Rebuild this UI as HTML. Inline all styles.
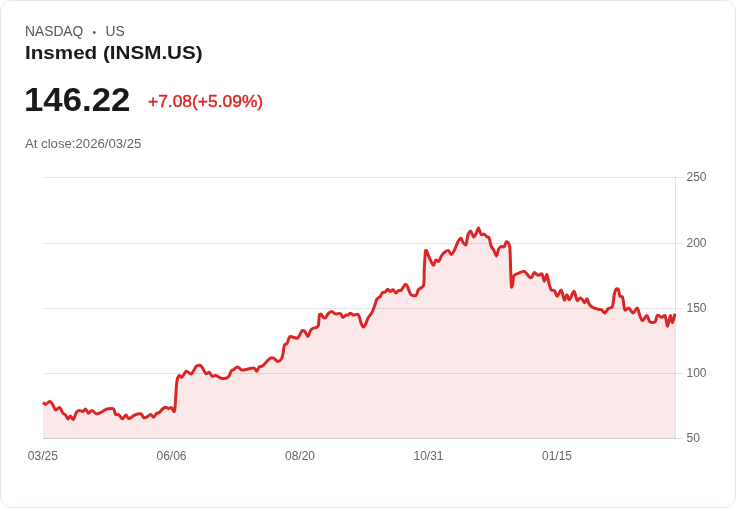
<!DOCTYPE html>
<html lang="en">
<head>
<meta charset="utf-8">
<title>Insmed (INSM.US)</title>
<style>
html,body{margin:0;padding:0;background:#fff;}
body{width:736px;height:508px;overflow:hidden;font-family:"Liberation Sans",sans-serif;}
.card{position:relative;width:736px;height:508px;background:#fff;overflow:hidden;}
.bd{position:absolute;left:0;top:0;box-sizing:border-box;width:736px;height:508px;border:1px solid #e2e8f0;border-radius:12px;}
.t{position:absolute;left:25px;white-space:nowrap;line-height:1;transform-origin:0 0;}
.exch{left:24.6px;top:24.4px;font-size:14.5px;color:#555;transform:scaleX(.952);}
.dot{display:inline-block;font-size:10.6px;line-height:1;margin:0 9.9px 0 9.7px;vertical-align:0.7px;}
.name{left:25.2px;top:45px;font-size:17.8px;font-weight:bold;color:#1a1a1a;transform:scaleX(1.16);}
.price{left:24.4px;top:84.4px;font-size:32.5px;font-weight:bold;color:#1a1a1a;transform:scaleX(1.07);}
.chg{left:147.8px;top:94px;font-size:16px;color:#dc2626;transform:scaleX(1.088);-webkit-text-stroke:.45px #dc2626;}
.close{left:25.3px;top:137.6px;font-size:12px;color:#666;transform:scaleX(1.097);}
svg{position:absolute;left:0;top:0;}
svg text{font-family:"Liberation Sans",sans-serif;font-size:12px;fill:#666;}
</style>
</head>
<body>
<div class="card">
<div class="bd"></div>
<div class="t exch">NASDAQ<span class="dot">•</span>US</div>
<div class="t name">Insmed (INSM.US)</div>
<div class="t price">146.22</div>
<div class="t chg">+7.08(+5.09%)</div>
<div class="t close">At close:2026/03/25</div>
<svg width="736" height="508" viewBox="0 0 736 508">
<g>
<g stroke="rgba(0,0,0,0.1)" stroke-width="1" fill="none"><line x1="43.0" y1="177.5" x2="683.5" y2="177.5"/><line x1="43.0" y1="243.5" x2="683.5" y2="243.5"/><line x1="43.0" y1="308.5" x2="683.5" y2="308.5"/><line x1="43.0" y1="373.5" x2="683.5" y2="373.5"/><line x1="43.0" y1="438.5" x2="683.5" y2="438.5"/><line x1="43.0" y1="438.5" x2="676.0" y2="438.5"/><line x1="675.5" y1="177" x2="675.5" y2="439"/></g>
<path d="M43.00 402.30C43.75 402.93 44.71 404.48 45.50 404.40C46.69 404.27 48.40 401.71 49.60 401.60C50.44 401.53 51.70 402.97 52.30 403.80C53.50 405.46 54.30 409.25 55.60 409.90C56.46 410.33 58.59 407.02 59.50 407.40C60.75 407.92 61.62 411.42 62.80 412.90C63.42 413.67 64.86 414.15 65.50 414.90C66.42 415.98 67.17 418.82 68.00 419.00C68.67 419.15 69.76 415.93 70.50 416.00C71.35 416.08 72.65 419.92 73.30 419.50C74.48 418.75 75.31 414.06 76.60 412.10C77.11 411.33 78.43 410.48 79.30 410.40C80.35 410.30 82.01 411.70 83.00 411.50C83.90 411.31 84.92 408.89 85.60 409.10C86.57 409.40 87.50 412.99 88.50 413.20C89.36 413.38 90.78 410.32 91.80 410.40C93.15 410.50 94.90 413.43 96.40 413.80C97.60 414.09 99.56 413.15 100.80 412.60C101.87 412.13 103.04 410.92 104.10 410.40C105.35 409.78 107.14 409.02 108.50 408.80C109.96 408.57 112.52 408.13 113.50 408.90C114.65 409.81 114.58 413.26 115.60 414.40C116.15 415.01 117.99 414.27 118.75 414.75C120.06 415.58 121.38 418.71 122.50 418.75C123.53 418.79 124.91 415.04 125.90 415.00C126.78 414.96 127.74 418.18 128.75 418.50C129.54 418.75 130.98 417.42 131.90 416.90C133.03 416.25 134.38 414.98 135.60 414.60C137.19 414.11 139.89 413.47 141.25 414.00C142.33 414.42 142.77 417.25 143.75 417.75C144.46 418.12 146.02 417.30 146.90 416.90C148.08 416.36 149.54 414.55 150.60 414.60C151.60 414.65 152.92 417.40 153.75 417.25C154.69 417.07 155.48 414.36 156.50 413.50C157.17 412.93 158.69 413.03 159.40 412.50C160.49 411.68 161.44 409.89 162.50 409.00C163.30 408.32 164.64 407.33 165.60 407.25C166.51 407.18 167.81 408.46 168.75 408.50C169.50 408.53 170.67 407.19 171.25 407.50C172.33 408.09 173.95 412.29 174.30 411.50C175.28 409.29 175.34 401.71 175.70 397.50C176.12 392.63 176.16 386.04 176.90 381.25C177.18 379.47 178.12 376.38 179.10 375.60C179.62 375.18 181.25 377.65 181.90 377.25C183.39 376.34 184.67 371.80 186.25 371.25C187.47 370.83 190.10 374.57 191.25 374.00C193.10 373.07 194.45 368.18 196.25 366.25C196.90 365.56 198.47 365.30 199.40 365.25C199.92 365.22 200.71 365.62 201.10 366.00C201.79 366.67 202.46 367.91 203.00 368.75C203.96 370.23 204.92 373.09 206.10 373.75C206.80 374.14 208.51 371.94 209.25 372.25C210.28 372.69 210.92 375.67 212.00 376.25C212.79 376.68 214.48 375.50 215.50 375.60C216.46 375.69 217.69 376.48 218.60 376.90C219.56 377.35 220.74 378.40 221.75 378.50C223.38 378.66 225.90 378.33 227.40 377.75C228.15 377.46 228.83 376.33 229.25 375.60C230.06 374.19 230.58 371.84 231.50 370.60C231.88 370.09 233.04 370.12 233.60 369.75C234.62 369.07 235.72 367.56 236.75 367.10C237.22 366.89 238.12 367.22 238.60 367.50C239.62 368.09 240.65 369.83 241.75 370.00C243.47 370.28 246.12 369.29 248.00 369.00C249.87 368.72 252.65 367.69 254.25 368.10C255.27 368.36 256.08 371.41 256.75 371.25C257.58 371.05 258.22 367.85 259.25 366.90C259.92 366.28 261.61 366.53 262.40 366.00C263.67 365.14 264.98 363.37 266.10 362.25C267.23 361.12 268.57 359.23 269.90 358.50C270.82 357.99 272.63 357.73 273.60 358.10C275.06 358.66 276.69 361.49 278.00 361.60C279.06 361.69 280.80 359.84 281.50 358.75C282.30 357.49 282.67 355.28 283.00 353.75C283.57 351.15 283.60 347.31 284.50 345.00C284.80 344.24 286.55 344.21 287.00 343.50C288.12 341.73 288.47 337.98 289.75 336.75C290.42 336.11 292.39 337.03 293.50 337.25C294.64 337.48 296.33 338.57 297.25 338.25C298.20 337.92 299.10 336.11 299.75 335.10C300.60 333.79 301.25 331.24 302.25 330.50C302.75 330.13 304.22 330.85 304.75 331.40C305.92 332.62 307.07 336.50 307.90 336.40C308.77 336.30 309.45 332.31 310.40 330.75C310.95 329.86 312.01 328.75 312.90 328.25C313.69 327.80 315.16 327.99 316.00 327.60C316.77 327.24 318.04 326.55 318.25 325.75C319.09 322.62 318.77 317.54 319.50 314.50C319.60 314.09 320.68 314.00 321.00 314.25C321.88 314.93 322.57 316.95 323.50 317.60C324.00 317.95 325.30 317.98 325.75 317.60C326.62 316.87 327.04 314.81 327.90 313.90C328.80 312.95 330.49 311.40 331.60 311.40C332.74 311.40 334.14 313.60 335.40 313.90C336.78 314.23 339.23 312.95 340.40 313.50C341.48 314.00 341.98 317.14 342.90 317.40C343.66 317.62 344.99 315.56 346.00 315.10C346.49 314.87 347.40 315.31 347.90 315.10C348.72 314.76 349.62 313.25 350.40 313.25C351.30 313.25 352.50 314.97 353.50 315.10C354.75 315.27 356.95 313.77 357.90 314.25C358.83 314.72 359.30 317.01 359.75 318.25C360.41 320.08 360.84 322.73 361.60 324.50C361.97 325.35 362.96 327.15 363.50 327.00C364.28 326.78 365.40 324.45 366.00 323.25C366.72 321.83 367.13 319.64 367.90 318.25C369.00 316.27 371.24 314.03 372.25 312.00C373.49 309.53 374.43 305.87 375.40 303.25C375.89 301.94 376.32 300.00 377.10 298.90C377.77 297.95 379.48 297.30 380.25 296.40C381.10 295.41 381.58 293.41 382.50 292.60C383.08 292.09 384.57 292.43 385.25 292.00C386.15 291.43 386.96 289.35 387.75 289.25C388.46 289.17 389.45 291.32 390.25 291.40C391.03 291.47 392.28 289.55 393.00 289.75C393.98 290.03 395.01 292.88 395.90 293.00C396.63 293.10 397.52 290.94 398.40 290.50C399.02 290.19 400.38 290.95 400.90 290.50C402.44 289.15 403.82 285.60 405.25 284.50C405.68 284.17 406.78 285.18 407.10 285.75C408.47 288.18 409.18 292.59 410.90 294.50C411.82 295.52 414.89 296.14 415.90 295.50C417.14 294.71 417.29 291.20 418.40 289.75C419.54 288.27 422.90 287.47 423.40 285.75C424.66 281.39 423.96 274.37 424.25 269.50C424.59 263.87 424.86 256.15 425.50 250.75C425.54 250.45 426.36 250.26 426.50 250.50C427.41 252.13 428.11 255.12 429.00 257.00C430.18 259.50 432.11 264.52 433.40 265.10C434.18 265.45 434.87 260.81 435.90 260.10C436.48 259.70 438.19 261.83 438.75 261.40C439.87 260.53 440.46 257.30 441.50 255.75C442.41 254.40 443.97 252.72 445.25 251.75C446.04 251.15 447.67 250.16 448.40 250.50C449.47 250.99 450.39 254.56 451.25 254.50C452.19 254.44 453.65 251.53 454.40 250.10C455.71 247.60 456.74 243.85 458.10 241.40C458.72 240.29 460.30 238.08 461.00 238.25C461.80 238.44 462.25 241.47 463.10 242.60C463.72 243.42 465.52 245.36 465.90 244.75C467.02 242.93 467.10 237.42 468.10 234.50C468.51 233.30 469.94 230.71 470.60 231.00C471.64 231.46 472.73 236.59 473.75 237.00C474.43 237.27 475.62 234.44 476.25 233.25C477.05 231.74 477.83 227.83 478.50 228.00C479.33 228.21 480.07 233.19 481.25 234.50C481.72 235.02 483.30 233.82 484.00 234.10C484.99 234.50 485.95 236.08 486.90 236.75C487.45 237.13 488.74 237.02 489.00 237.60C490.04 239.92 490.29 243.89 491.25 246.40C491.72 247.64 493.11 248.93 493.75 250.10C494.68 251.81 495.80 256.17 496.50 256.00C497.30 255.81 497.78 250.85 498.75 248.90C499.21 247.97 500.37 246.72 501.25 246.40C501.95 246.15 503.49 247.45 504.00 247.00C504.99 246.13 505.34 242.97 506.25 242.00C506.57 241.65 507.79 242.16 508.10 242.60C508.84 243.66 509.61 245.61 509.75 247.00C510.36 253.23 510.33 261.70 510.60 268.00C510.85 273.78 510.99 282.73 511.50 287.25C511.56 287.83 512.35 285.72 512.50 285.00C513.10 282.22 512.80 277.88 514.00 275.60C514.68 274.31 517.28 273.75 518.75 273.10C520.21 272.45 522.33 271.25 523.75 271.25C524.58 271.25 525.59 272.44 526.25 273.10C527.47 274.32 528.74 276.65 530.00 277.50C530.43 277.79 531.53 277.32 531.90 276.90C532.85 275.82 533.46 272.82 534.40 272.50C535.14 272.25 536.48 274.49 537.50 275.00C537.98 275.24 538.87 275.15 539.40 275.00C540.19 274.78 541.51 273.26 541.90 273.75C543.01 275.14 543.62 281.15 544.40 281.25C545.12 281.34 546.29 274.22 546.90 274.40C547.60 274.60 548.08 280.10 548.75 282.50C549.39 284.78 550.04 288.27 551.25 290.00C551.74 290.70 553.79 289.97 554.40 290.60C555.59 291.84 556.30 296.33 557.25 296.25C558.36 296.15 560.36 289.53 561.25 290.00C562.51 290.66 563.31 299.08 564.40 300.00C565.00 300.51 566.14 294.79 566.90 294.75C567.64 294.71 568.62 300.13 569.40 299.75C570.75 299.08 572.84 291.12 574.00 291.25C575.19 291.38 575.98 299.09 577.25 300.60C577.70 301.14 578.91 298.39 579.75 298.10C580.30 297.91 581.40 298.54 581.90 299.00C582.90 299.93 583.99 302.79 584.75 302.75C585.49 302.71 586.31 298.54 586.90 298.75C587.70 299.04 588.40 302.88 589.40 304.40C590.08 305.43 591.41 306.67 592.50 307.25C594.21 308.17 596.85 308.84 598.75 309.40C599.67 309.67 601.12 309.52 601.90 310.00C602.92 310.63 603.94 313.26 604.75 313.10C605.80 312.89 606.87 309.77 608.10 308.75C609.12 307.91 611.77 308.04 612.25 306.90C613.66 303.54 613.53 297.63 614.40 293.75C614.73 292.26 615.44 290.05 616.25 289.00C616.55 288.62 617.88 288.57 618.10 289.00C619.00 290.74 619.02 294.49 620.00 296.25C620.34 296.86 622.26 296.23 622.50 296.90C623.76 300.36 623.57 307.45 625.00 310.00C625.45 310.81 627.79 307.76 628.75 308.10C630.22 308.63 631.81 312.90 633.10 312.90C634.36 312.90 636.37 307.67 637.25 308.10C638.44 308.68 639.01 313.88 640.00 316.25C640.58 317.63 641.61 320.68 642.50 320.60C643.68 320.49 645.80 315.41 646.90 315.60C648.05 315.80 648.58 320.80 650.00 321.90C651.01 322.69 654.07 322.72 655.00 321.90C656.32 320.73 656.27 316.08 657.50 315.25C658.34 314.69 660.60 317.19 661.90 317.25C662.85 317.29 664.59 314.94 665.00 315.60C666.27 317.64 666.69 326.25 667.50 326.25C668.31 326.25 669.49 316.28 670.40 315.60C670.99 315.16 671.89 322.75 672.50 322.50C673.27 322.19 674.25 316.38 675.00 313.75L675.00 438.00L43.00 438.00Z" fill="rgba(220,38,38,0.1)" stroke="none"/>
<path d="M43.00 402.30C43.75 402.93 44.71 404.48 45.50 404.40C46.69 404.27 48.40 401.71 49.60 401.60C50.44 401.53 51.70 402.97 52.30 403.80C53.50 405.46 54.30 409.25 55.60 409.90C56.46 410.33 58.59 407.02 59.50 407.40C60.75 407.92 61.62 411.42 62.80 412.90C63.42 413.67 64.86 414.15 65.50 414.90C66.42 415.98 67.17 418.82 68.00 419.00C68.67 419.15 69.76 415.93 70.50 416.00C71.35 416.08 72.65 419.92 73.30 419.50C74.48 418.75 75.31 414.06 76.60 412.10C77.11 411.33 78.43 410.48 79.30 410.40C80.35 410.30 82.01 411.70 83.00 411.50C83.90 411.31 84.92 408.89 85.60 409.10C86.57 409.40 87.50 412.99 88.50 413.20C89.36 413.38 90.78 410.32 91.80 410.40C93.15 410.50 94.90 413.43 96.40 413.80C97.60 414.09 99.56 413.15 100.80 412.60C101.87 412.13 103.04 410.92 104.10 410.40C105.35 409.78 107.14 409.02 108.50 408.80C109.96 408.57 112.52 408.13 113.50 408.90C114.65 409.81 114.58 413.26 115.60 414.40C116.15 415.01 117.99 414.27 118.75 414.75C120.06 415.58 121.38 418.71 122.50 418.75C123.53 418.79 124.91 415.04 125.90 415.00C126.78 414.96 127.74 418.18 128.75 418.50C129.54 418.75 130.98 417.42 131.90 416.90C133.03 416.25 134.38 414.98 135.60 414.60C137.19 414.11 139.89 413.47 141.25 414.00C142.33 414.42 142.77 417.25 143.75 417.75C144.46 418.12 146.02 417.30 146.90 416.90C148.08 416.36 149.54 414.55 150.60 414.60C151.60 414.65 152.92 417.40 153.75 417.25C154.69 417.07 155.48 414.36 156.50 413.50C157.17 412.93 158.69 413.03 159.40 412.50C160.49 411.68 161.44 409.89 162.50 409.00C163.30 408.32 164.64 407.33 165.60 407.25C166.51 407.18 167.81 408.46 168.75 408.50C169.50 408.53 170.67 407.19 171.25 407.50C172.33 408.09 173.95 412.29 174.30 411.50C175.28 409.29 175.34 401.71 175.70 397.50C176.12 392.63 176.16 386.04 176.90 381.25C177.18 379.47 178.12 376.38 179.10 375.60C179.62 375.18 181.25 377.65 181.90 377.25C183.39 376.34 184.67 371.80 186.25 371.25C187.47 370.83 190.10 374.57 191.25 374.00C193.10 373.07 194.45 368.18 196.25 366.25C196.90 365.56 198.47 365.30 199.40 365.25C199.92 365.22 200.71 365.62 201.10 366.00C201.79 366.67 202.46 367.91 203.00 368.75C203.96 370.23 204.92 373.09 206.10 373.75C206.80 374.14 208.51 371.94 209.25 372.25C210.28 372.69 210.92 375.67 212.00 376.25C212.79 376.68 214.48 375.50 215.50 375.60C216.46 375.69 217.69 376.48 218.60 376.90C219.56 377.35 220.74 378.40 221.75 378.50C223.38 378.66 225.90 378.33 227.40 377.75C228.15 377.46 228.83 376.33 229.25 375.60C230.06 374.19 230.58 371.84 231.50 370.60C231.88 370.09 233.04 370.12 233.60 369.75C234.62 369.07 235.72 367.56 236.75 367.10C237.22 366.89 238.12 367.22 238.60 367.50C239.62 368.09 240.65 369.83 241.75 370.00C243.47 370.28 246.12 369.29 248.00 369.00C249.87 368.72 252.65 367.69 254.25 368.10C255.27 368.36 256.08 371.41 256.75 371.25C257.58 371.05 258.22 367.85 259.25 366.90C259.92 366.28 261.61 366.53 262.40 366.00C263.67 365.14 264.98 363.37 266.10 362.25C267.23 361.12 268.57 359.23 269.90 358.50C270.82 357.99 272.63 357.73 273.60 358.10C275.06 358.66 276.69 361.49 278.00 361.60C279.06 361.69 280.80 359.84 281.50 358.75C282.30 357.49 282.67 355.28 283.00 353.75C283.57 351.15 283.60 347.31 284.50 345.00C284.80 344.24 286.55 344.21 287.00 343.50C288.12 341.73 288.47 337.98 289.75 336.75C290.42 336.11 292.39 337.03 293.50 337.25C294.64 337.48 296.33 338.57 297.25 338.25C298.20 337.92 299.10 336.11 299.75 335.10C300.60 333.79 301.25 331.24 302.25 330.50C302.75 330.13 304.22 330.85 304.75 331.40C305.92 332.62 307.07 336.50 307.90 336.40C308.77 336.30 309.45 332.31 310.40 330.75C310.95 329.86 312.01 328.75 312.90 328.25C313.69 327.80 315.16 327.99 316.00 327.60C316.77 327.24 318.04 326.55 318.25 325.75C319.09 322.62 318.77 317.54 319.50 314.50C319.60 314.09 320.68 314.00 321.00 314.25C321.88 314.93 322.57 316.95 323.50 317.60C324.00 317.95 325.30 317.98 325.75 317.60C326.62 316.87 327.04 314.81 327.90 313.90C328.80 312.95 330.49 311.40 331.60 311.40C332.74 311.40 334.14 313.60 335.40 313.90C336.78 314.23 339.23 312.95 340.40 313.50C341.48 314.00 341.98 317.14 342.90 317.40C343.66 317.62 344.99 315.56 346.00 315.10C346.49 314.87 347.40 315.31 347.90 315.10C348.72 314.76 349.62 313.25 350.40 313.25C351.30 313.25 352.50 314.97 353.50 315.10C354.75 315.27 356.95 313.77 357.90 314.25C358.83 314.72 359.30 317.01 359.75 318.25C360.41 320.08 360.84 322.73 361.60 324.50C361.97 325.35 362.96 327.15 363.50 327.00C364.28 326.78 365.40 324.45 366.00 323.25C366.72 321.83 367.13 319.64 367.90 318.25C369.00 316.27 371.24 314.03 372.25 312.00C373.49 309.53 374.43 305.87 375.40 303.25C375.89 301.94 376.32 300.00 377.10 298.90C377.77 297.95 379.48 297.30 380.25 296.40C381.10 295.41 381.58 293.41 382.50 292.60C383.08 292.09 384.57 292.43 385.25 292.00C386.15 291.43 386.96 289.35 387.75 289.25C388.46 289.17 389.45 291.32 390.25 291.40C391.03 291.47 392.28 289.55 393.00 289.75C393.98 290.03 395.01 292.88 395.90 293.00C396.63 293.10 397.52 290.94 398.40 290.50C399.02 290.19 400.38 290.95 400.90 290.50C402.44 289.15 403.82 285.60 405.25 284.50C405.68 284.17 406.78 285.18 407.10 285.75C408.47 288.18 409.18 292.59 410.90 294.50C411.82 295.52 414.89 296.14 415.90 295.50C417.14 294.71 417.29 291.20 418.40 289.75C419.54 288.27 422.90 287.47 423.40 285.75C424.66 281.39 423.96 274.37 424.25 269.50C424.59 263.87 424.86 256.15 425.50 250.75C425.54 250.45 426.36 250.26 426.50 250.50C427.41 252.13 428.11 255.12 429.00 257.00C430.18 259.50 432.11 264.52 433.40 265.10C434.18 265.45 434.87 260.81 435.90 260.10C436.48 259.70 438.19 261.83 438.75 261.40C439.87 260.53 440.46 257.30 441.50 255.75C442.41 254.40 443.97 252.72 445.25 251.75C446.04 251.15 447.67 250.16 448.40 250.50C449.47 250.99 450.39 254.56 451.25 254.50C452.19 254.44 453.65 251.53 454.40 250.10C455.71 247.60 456.74 243.85 458.10 241.40C458.72 240.29 460.30 238.08 461.00 238.25C461.80 238.44 462.25 241.47 463.10 242.60C463.72 243.42 465.52 245.36 465.90 244.75C467.02 242.93 467.10 237.42 468.10 234.50C468.51 233.30 469.94 230.71 470.60 231.00C471.64 231.46 472.73 236.59 473.75 237.00C474.43 237.27 475.62 234.44 476.25 233.25C477.05 231.74 477.83 227.83 478.50 228.00C479.33 228.21 480.07 233.19 481.25 234.50C481.72 235.02 483.30 233.82 484.00 234.10C484.99 234.50 485.95 236.08 486.90 236.75C487.45 237.13 488.74 237.02 489.00 237.60C490.04 239.92 490.29 243.89 491.25 246.40C491.72 247.64 493.11 248.93 493.75 250.10C494.68 251.81 495.80 256.17 496.50 256.00C497.30 255.81 497.78 250.85 498.75 248.90C499.21 247.97 500.37 246.72 501.25 246.40C501.95 246.15 503.49 247.45 504.00 247.00C504.99 246.13 505.34 242.97 506.25 242.00C506.57 241.65 507.79 242.16 508.10 242.60C508.84 243.66 509.61 245.61 509.75 247.00C510.36 253.23 510.33 261.70 510.60 268.00C510.85 273.78 510.99 282.73 511.50 287.25C511.56 287.83 512.35 285.72 512.50 285.00C513.10 282.22 512.80 277.88 514.00 275.60C514.68 274.31 517.28 273.75 518.75 273.10C520.21 272.45 522.33 271.25 523.75 271.25C524.58 271.25 525.59 272.44 526.25 273.10C527.47 274.32 528.74 276.65 530.00 277.50C530.43 277.79 531.53 277.32 531.90 276.90C532.85 275.82 533.46 272.82 534.40 272.50C535.14 272.25 536.48 274.49 537.50 275.00C537.98 275.24 538.87 275.15 539.40 275.00C540.19 274.78 541.51 273.26 541.90 273.75C543.01 275.14 543.62 281.15 544.40 281.25C545.12 281.34 546.29 274.22 546.90 274.40C547.60 274.60 548.08 280.10 548.75 282.50C549.39 284.78 550.04 288.27 551.25 290.00C551.74 290.70 553.79 289.97 554.40 290.60C555.59 291.84 556.30 296.33 557.25 296.25C558.36 296.15 560.36 289.53 561.25 290.00C562.51 290.66 563.31 299.08 564.40 300.00C565.00 300.51 566.14 294.79 566.90 294.75C567.64 294.71 568.62 300.13 569.40 299.75C570.75 299.08 572.84 291.12 574.00 291.25C575.19 291.38 575.98 299.09 577.25 300.60C577.70 301.14 578.91 298.39 579.75 298.10C580.30 297.91 581.40 298.54 581.90 299.00C582.90 299.93 583.99 302.79 584.75 302.75C585.49 302.71 586.31 298.54 586.90 298.75C587.70 299.04 588.40 302.88 589.40 304.40C590.08 305.43 591.41 306.67 592.50 307.25C594.21 308.17 596.85 308.84 598.75 309.40C599.67 309.67 601.12 309.52 601.90 310.00C602.92 310.63 603.94 313.26 604.75 313.10C605.80 312.89 606.87 309.77 608.10 308.75C609.12 307.91 611.77 308.04 612.25 306.90C613.66 303.54 613.53 297.63 614.40 293.75C614.73 292.26 615.44 290.05 616.25 289.00C616.55 288.62 617.88 288.57 618.10 289.00C619.00 290.74 619.02 294.49 620.00 296.25C620.34 296.86 622.26 296.23 622.50 296.90C623.76 300.36 623.57 307.45 625.00 310.00C625.45 310.81 627.79 307.76 628.75 308.10C630.22 308.63 631.81 312.90 633.10 312.90C634.36 312.90 636.37 307.67 637.25 308.10C638.44 308.68 639.01 313.88 640.00 316.25C640.58 317.63 641.61 320.68 642.50 320.60C643.68 320.49 645.80 315.41 646.90 315.60C648.05 315.80 648.58 320.80 650.00 321.90C651.01 322.69 654.07 322.72 655.00 321.90C656.32 320.73 656.27 316.08 657.50 315.25C658.34 314.69 660.60 317.19 661.90 317.25C662.85 317.29 664.59 314.94 665.00 315.60C666.27 317.64 666.69 326.25 667.50 326.25C668.31 326.25 669.49 316.28 670.40 315.60C670.99 315.16 671.89 322.75 672.50 322.50C673.27 322.19 674.25 316.38 675.00 313.75" fill="none" stroke="#dc2626" stroke-width="3" stroke-linejoin="round" stroke-linecap="butt"/>
<g><text x="686.5" y="181.1">250</text><text x="686.5" y="247.1">200</text><text x="686.5" y="312.1">150</text><text x="686.5" y="377.1">100</text><text x="686.5" y="442.1">50</text></g>
<g><text x="42.8" y="459.6" text-anchor="middle">03/25</text><text x="171.5" y="459.6" text-anchor="middle">06/06</text><text x="300.0" y="459.6" text-anchor="middle">08/20</text><text x="428.5" y="459.6" text-anchor="middle">10/31</text><text x="557.0" y="459.6" text-anchor="middle">01/15</text></g>
</g>
</svg>
</div>
</body>
</html>
